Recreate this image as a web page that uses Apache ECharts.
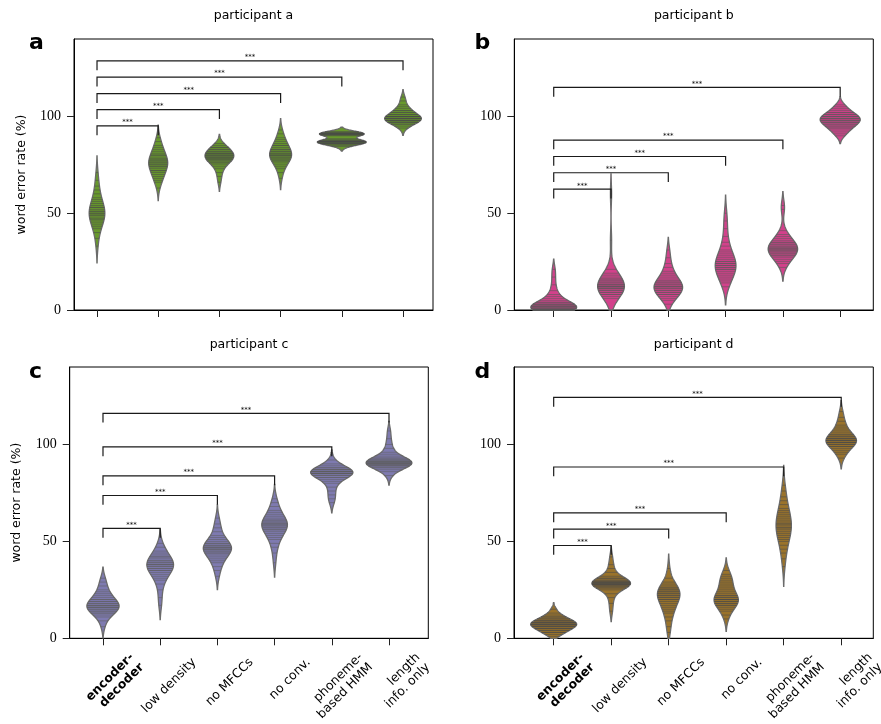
<!DOCTYPE html>
<html><head><meta charset="utf-8">
<script src="https://cdn.jsdelivr.net/npm/echarts@6/dist/echarts.min.js"></script>
<style>html,body{margin:0;padding:0;background:#fff}#chart{width:881px;height:724px}</style>
</head><body><div id="chart"></div>
<script>
// ---------- data ----------
const categories = ['encoder-decoder', 'low density', 'no MFCCs', 'no conv.', 'phoneme-based HMM', 'length info. only'];
const tickLabels = ['{b|encoder-}\n{b|decoder}', 'low density', 'no MFCCs', 'no conv.', 'phoneme-\nbased HMM', 'length\ninfo. only'];
const panelTitles = ['participant a', 'participant b', 'participant c', 'participant d'];
const panelLetters = ['a', 'b', 'c', 'd'];
const yTicks = [0, 50, 100];
const yAxisName = 'word error rate (%)';

// word error rates (%) per sentence, one list per model
const werA = [
  [33,37,40,42,43,44,45,46,47,47,48,49,49,50,50,51,51,52,53,53,54,55,56,57,58,60,62,64,67,71],
  [63,66,67,68,69,70,71,72,72,73,74,74,75,75,76,76,77,77,78,78,79,80,80,81,82,83,84,85,87,89],
  [66,69,71,73,74,75,76,76,77,77,78,78,78,79,79,79,80,80,80,81,81,81,82,82,83,83,84,84,85,86],
  [68,71,73,74,75,76,77,77,78,78,79,79,80,80,80,81,81,82,82,83,83,84,85,85,86,87,88,89,91,93],
  [84.5,85,85.5,86,86,86,86.5,86.5,87,87,87,87,87,87.5,87.5,88,88.5,90,90.5,90.5,90.5,91,91,91,91,91,91.5,91.5,92,92],
  [94,95,96,96,97,97,97,98,98,98,98,99,99,99,99,100,100,100,100,101,101,102,102,103,103,104,105,106,108,110]
];
const werB = [
  [0,0,0,0,0,0,0,0,0,1,1,1,1,2,2,2,2,3,3,3,4,4,5,6,7,8,10,13,17,21],
  [6,7,8,8,9,9,10,10,11,11,11,12,12,12,12,13,13,13,14,14,15,15,16,16,17,18,19,21,36,60],
  [3,5,6,7,8,8,9,9,10,10,11,11,12,12,12,13,13,14,14,15,15,16,17,18,19,20,22,24,27,31],
  [12,14,15,16,17,18,19,20,21,21,22,22,23,23,24,24,25,25,26,27,28,29,30,31,33,35,38,42,46,50],
  [22,24,25,26,27,28,28,29,29,30,30,31,31,31,32,32,32,33,33,34,34,35,35,36,37,38,39,41,52,54],
  [90,91,92,93,94,94,95,95,96,96,97,97,97,98,98,98,99,99,99,100,100,100,101,101,102,102,103,104,105,106]
];
const werC = [
  [6,9,11,12,13,13,14,14,15,15,16,16,16,17,17,17,18,18,19,19,20,20,21,22,23,24,25,27,29,31],
  [17,21,25,28,30,31,32,33,34,35,35,36,36,37,37,38,38,38,39,39,40,40,41,42,42,43,44,45,47,49],
  [32,35,37,39,40,41,42,43,44,44,45,45,46,46,46,47,47,47,48,48,49,49,50,51,52,53,55,57,59,62],
  [39,44,47,49,51,52,53,54,55,56,56,57,57,58,58,59,59,59,60,60,61,61,62,63,64,65,66,68,70,72],
  [70,72,74,76,78,80,81,82,83,83,84,84,85,85,85,85,85,86,86,86,86,86,87,87,87,88,88,89,90,92],
  [84,86,87,88,88,89,89,89,90,90,90,90,90,91,91,91,91,91,92,92,92,93,93,94,95,96,98,100,103,107]
];
const werD = [
  [1,2,3,3,4,4,5,5,5,6,6,6,7,7,7,7,8,8,8,8,9,9,9,10,10,11,11,12,13,15],
  [14,18,21,23,25,26,26,27,27,27,28,28,28,28,28,28,29,29,29,29,29,30,30,31,31,32,34,36,38,42],
  [3,6,9,11,13,14,15,16,17,18,19,20,20,21,21,22,22,23,23,24,24,25,25,26,26,27,28,29,31,36],
  [10,12,14,15,16,17,17,18,18,19,19,20,20,20,21,21,22,22,23,24,25,26,27,28,29,30,31,32,33,35],
  [37,41,44,46,48,50,51,52,53,54,55,56,57,57,58,59,59,60,61,62,63,64,65,66,67,69,71,73,76,79],
  [93,95,96,97,98,99,99,100,100,101,101,101,102,102,102,103,103,103,104,104,105,105,106,107,108,109,110,112,114,117]
];
// significance bracket levels (encoder-decoder vs model k, k = 1..5), "***" each
const sigA = [95.1, 103.5, 111.8, 120.3, 128.7];
const sigB = [62.4, 70.9, 79.3, 87.8, 115.0];
const sigC = [56.7, 73.7, 83.8, 98.8, 116.1];
const sigD = [47.9, 56.3, 64.7, 88.4, 124.3];
const sigMark = '***';

// ---------- styling / layout ----------
const panelColors = ['#68992c', '#d2418b', '#7e7ab0', '#9a732b'];
const panelGrays = ['#4a4a4a', '#585858', '#5e5e5e', '#4a4a4a'];
const layout = [
  {left: 74,    top: 39,  width: 359, height: 271, xmin: -0.376, xmax: 5.49},
  {left: 514.3, top: 39,  width: 359, height: 271, xmin: -0.688, xmax: 5.578},
  {left: 69.7,  top: 367, width: 358.6, height: 271.3, xmin: -0.582, xmax: 5.687},
  {left: 514,   top: 367, width: 359.3, height: 271.3, xmin: -0.69, xmax: 5.558}
];
const FONT = '"DejaVu Sans", sans-serif';
const SERIF = '"Liberation Serif", "DejaVu Serif", serif';

// ---------- KDE (seaborn-like: scott bw, cut = 2) ----------
function kde(vals) {
  const n = vals.length;
  const mean = vals.reduce((a, b) => a + b, 0) / n;
  const sd = Math.sqrt(vals.reduce((a, b) => a + (b - mean) * (b - mean), 0) / (n - 1));
  const bw = sd * Math.pow(n, -0.2);
  const lo = Math.min(...vals) - 2 * bw, hi = Math.max(...vals) + 2 * bw;
  const G = 120, sup = [], den = [];
  for (let i = 0; i < G; i++) {
    const y = lo + (hi - lo) * i / (G - 1);
    let s = 0;
    for (const v of vals) { const z = (y - v) / bw; s += Math.exp(-0.5 * z * z); }
    sup.push(y); den.push(s / (n * bw * Math.sqrt(2 * Math.PI)));
  }
  return {sup, den, vals};
}
function interp(x, xs, ys) {
  if (x <= xs[0]) return ys[0];
  if (x >= xs[xs.length - 1]) return ys[ys.length - 1];
  for (let i = 1; i < xs.length; i++) {
    if (x <= xs[i]) { const t = (x - xs[i - 1]) / (xs[i] - xs[i - 1]); return ys[i - 1] + t * (ys[i] - ys[i - 1]); }
  }
  return 0;
}

const panelData = [werA, werB, werC, werD];
const panelSig = [sigA, sigB, sigC, sigD];

const grids = [], xAxes = [], yAxes = [], series = [], graphics = [];

panelData.forEach((wer, p) => {
  const L = layout[p];
  const kdes = wer.map(kde);
  const maxDen = Math.max(...kdes.map(k => Math.max(...k.den)));
  const scale = 0.4 / maxDen;
  const color = panelColors[p], gray = panelGrays[p];

  grids.push({left: L.left, top: L.top, width: L.width, height: L.height, show: true, borderColor: '#000', borderWidth: 1,
    containLabel: false, outerBoundsMode: 'none'});
  xAxes.push({
    gridIndex: p, type: 'value', min: L.xmin, max: L.xmax,
    axisLine: {show: true, onZero: false, lineStyle: {color: '#000', width: 1}},
    axisTick: {show: true, length: 7, customValues: categories.map((c, i) => i), lineStyle: {color: '#222', width: 1}},
    axisLabel: {show: false}, splitLine: {show: false}
  });
  yAxes.push({
    gridIndex: p, type: 'value', min: 0, max: 140, interval: 50,
    name: (p % 2 === 0) ? yAxisName : '', nameLocation: 'middle', nameGap: 46,
    nameTextStyle: {fontFamily: FONT, fontSize: 12.5, color: '#000'},
    axisLine: {show: true, onZero: false, lineStyle: {color: '#000', width: 1}},
    axisTick: {show: true, length: 7, customValues: yTicks, lineStyle: {color: '#222', width: 1}},
    axisLabel: {margin: 13, fontFamily: SERIF, fontSize: 14, color: '#000', customValues: yTicks},
    splitLine: {show: false}
  });

  // violins
  series.push({
    type: 'custom', coordinateSystem: 'cartesian2d', xAxisIndex: p, yAxisIndex: p,
    silent: true, animation: false,
    data: categories.map((c, i) => [i, 0]),
    encode: {x: 0, y: 1},
    renderItem: function (params, api) {
      const k = api.value(0);
      const K = kdes[k];
      const prof = [];
      if (K.sup[0] < 0) prof.push([0, interp(0, K.sup, K.den)]);
      for (let i = 0; i < K.sup.length; i++) if (K.sup[i] >= 0) prof.push([K.sup[i], K.den[i]]);
      const right = prof.map(([y, d]) => api.coord([k + d * scale, y]));
      const left = prof.slice().reverse().map(([y, d]) => api.coord([k - d * scale, y]));
      const children = [{
        type: 'polygon', shape: {points: right.concat(left)},
        style: {fill: color, stroke: '#6b6b6b', lineWidth: 1.3}
      }];
      K.vals.forEach(v => {
        if (v < 0) return;
        const w = interp(v, K.sup, K.den) * scale;
        const a = api.coord([k - w, v]), b = api.coord([k + w, v]);
        children.push({type: 'line', shape: {x1: a[0], y1: a[1], x2: b[0], y2: b[1]},
          style: {stroke: gray, lineWidth: 0.8, opacity: 0.7}});
      });
      return {type: 'group', children};
    }
  });

  // significance brackets
  series.push({
    type: 'custom', coordinateSystem: 'cartesian2d', xAxisIndex: p, yAxisIndex: p,
    silent: true, animation: false, z: 5,
    data: panelSig[p].map((lv, i) => [i + 1, lv]),
    encode: {x: 0, y: 1},
    renderItem: function (params, api) {
      const k = api.value(0), lv = api.value(1);
      const a = api.coord([0, lv]), b = api.coord([k, lv]);
      const drop = 9.3;
      return {type: 'group', children: [
        {type: 'polyline', shape: {points: [[a[0], a[1] + drop], a, b, [b[0], b[1] + drop]]},
          style: {stroke: '#1a1a1a', lineWidth: 1.2, fill: null}},
        {type: 'text', style: {text: sigMark, x: (a[0] + b[0]) / 2, y: a[1] - 3.5,
          align: 'center', verticalAlign: 'middle', textAlign: 'center', textVerticalAlign: 'middle',
          font: '7px ' + FONT, fill: '#000'}}
      ]};
    }
  });

  // titles and panel letters
  graphics.push({type: 'text', x: L.left + L.width / 2, y: (p < 2 ? 16 : 344.3),
    style: {text: panelTitles[p], font: '12.5px ' + FONT, fill: '#000', align: 'center', verticalAlign: 'middle', textAlign: 'center', textVerticalAlign: 'middle'}});
  graphics.push({type: 'text', x: (p % 2 === 0 ? 29 : 474.5), y: (p < 2 ? 43 : 372),
    style: {text: panelLetters[p], font: 'bold 22px ' + FONT, fill: '#000', align: 'left', verticalAlign: 'middle', textAlign: 'left', textVerticalAlign: 'middle'}});
});

// category tick labels (bottom row only), on label axes shifted to the label anchor
[2, 3].forEach((p, j) => {
  const L = layout[p];
  const gi = grids.length;
  grids.push({left: L.left + 34, top: L.top, width: L.width, height: L.height, show: false,
    containLabel: false, outerBoundsMode: 'none'});
  xAxes.push({
    gridIndex: gi, type: 'value', min: L.xmin, max: L.xmax,
    axisLine: {show: false}, axisTick: {show: false}, splitLine: {show: false},
    axisLabel: {
      show: true, customValues: categories.map((c, i) => i), rotate: 45, margin: 22,
      formatter: v => tickLabels[Math.round(v)],
      fontFamily: FONT, fontSize: 12.5, color: '#000', lineHeight: 14, hideOverlap: false,
      rich: {b: {fontFamily: FONT, fontSize: 12.5, fontWeight: 'bold', color: '#000', lineHeight: 14}}
    }
  });
  yAxes.push({gridIndex: gi, type: 'value', min: 0, max: 140, show: false});
});

const chart = echarts.init(document.getElementById('chart'), null, {renderer: 'canvas'});
chart.setOption({
  animation: false,
  backgroundColor: '#fff',
  grid: grids, xAxis: xAxes, yAxis: yAxes, series: series,
  graphic: {elements: graphics}
});
</script></body></html>
